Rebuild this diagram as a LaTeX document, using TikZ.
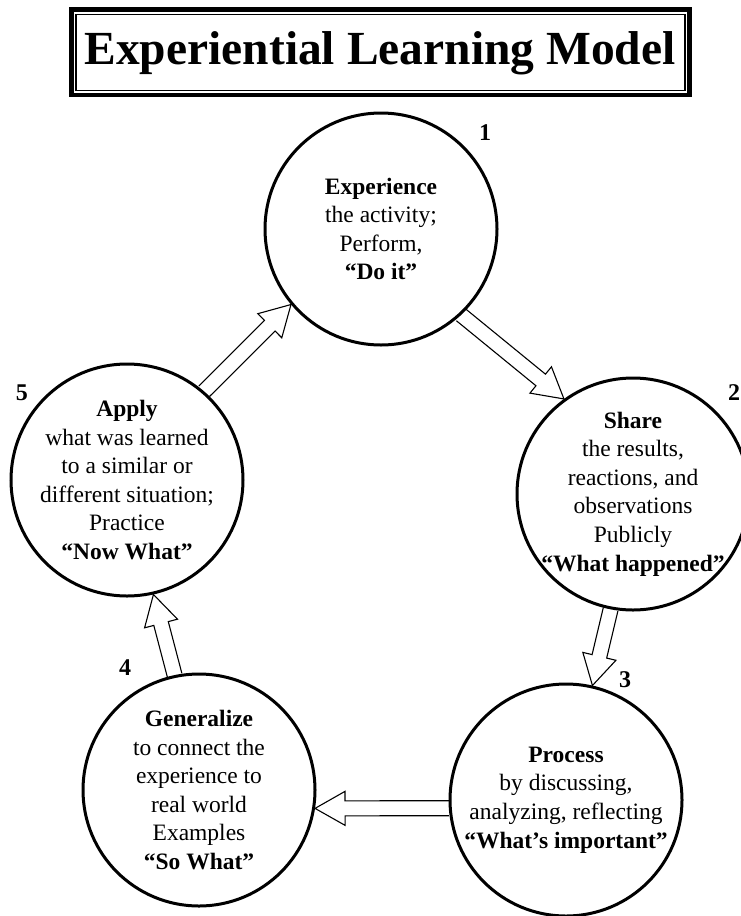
\documentclass[tikz,border=0pt]{standalone}
\usepackage{fontspec}
\setmainfont{Liberation Serif}
\usetikzlibrary{calc, positioning}

\newcommand{\hollowarrow}[2]{%
  \coordinate (ah) at ($(#2)!30pt!(#1)$);
  \draw[flow] ($(#1)!7.5pt!90:(#2)$)
    -- ($(ah)!7.5pt!-90:(#1)$) -- ($(ah)!17pt!-90:(#1)$)
    -- (#2)
    -- ($(ah)!17pt!90:(#1)$) -- ($(ah)!7.5pt!90:(#1)$)
    -- ($(#1)!7.5pt!-90:(#2)$);
}

\begin{document}
\begin{tikzpicture}[x=1pt, y=1pt,
    stage/.style={circle, draw, line width=3pt, minimum size=232pt, inner sep=0pt},
    stagetext/.style={align=center, inner sep=0pt, font=\fontsize{23.5}{28.6}\selectfont},
    stagenum/.style={font=\fontsize{24}{24}\selectfont\bfseries},
    flow/.style={line width=1.1pt, line join=miter}]
  \useasboundingbox (0,0) rectangle (740,-916);

  \draw[line width=4.5pt] (71.5,-9.5) rectangle (689.5,-95);
  \draw[line width=1.3pt] (76,-14.5) rectangle (685,-90.5);
  \node[font=\fontsize{47.5}{50}\selectfont\bfseries] (title) at (380,-53) {Experiential Learning Model};

  \node[stage] (c1) at (381,-229) {};
  \node[stage] (c2) at (633,-494) {};
  \node[stage] (c3) at (566,-800) {};
  \node[stage] (c4) at (199,-790) {};
  \node[stage] (c5) at (127,-480) {};

  \node[stagetext] (t1) at (c1) {\textbf{Experience}\\the activity;\\Perform,\\\textbf{“Do it”}};
  \node[stagetext] (t2) at (c2) {\textbf{Share}\\the results,\\reactions, and\\observations\\Publicly\\\textbf{“What happened”}};
  \node[stagetext] (t3) at (c3) {\textbf{Process}\\by discussing,\\analyzing, reflecting\\\textbf{“What’s important”}};
  \node[stagetext] (t4) at (c4) {\textbf{Generalize}\\to connect the\\experience to\\real world\\Examples\\\textbf{“So What”}};
  \node[stagetext] (t5) at (c5) {\textbf{Apply}\\what was learned\\to a similar or\\different situation;\\Practice\\\textbf{“Now What”}};

  \node[stagenum] (n1) at (485,-133) {1};
  \node[stagenum] (n2) at (734,-393) {2};
  \node[stagenum] (n3) at (625,-680) {3};
  \node[stagenum] (n4) at (125,-668) {4};
  \node[stagenum] (n5) at (22,-393) {5};

  \hollowarrow{c1.-47}{c2.126}
  \hollowarrow{c2.-101}{c3.77}
  \hollowarrow{c3.184}{c4.-9}
  \hollowarrow{c4.102.6}{c5.-77}
  \hollowarrow{c5.49}{c1.-140}
\end{tikzpicture}
\end{document}
